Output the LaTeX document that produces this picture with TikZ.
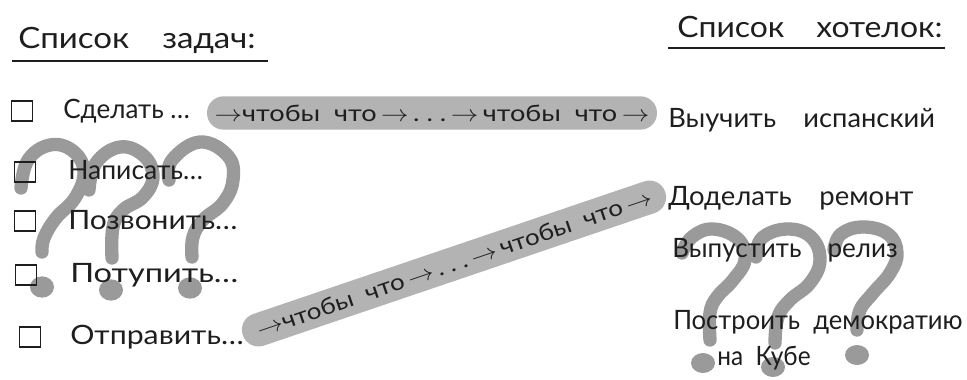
\documentclass[tikz,border=0pt]{standalone}
\usepackage{graphicx}
\usepackage{fontspec}
\setmainfont{Lato}
\definecolor{bandc}{HTML}{B3B3B3}
\definecolor{qmc}{HTML}{9A9A9A}
\definecolor{ink}{HTML}{1E1E1E}
\newcommand\fitwidth[2]{\resizebox{#1}{\height}{#2}}
\begin{document}
\begin{tikzpicture}[x=0.75pt,y=-0.75pt,
 qmark/.style={draw=qmc,line width=10pt,line cap=round,line join=round},
 qdot/.style={fill=qmc},
 txt/.style={text=ink,font=\fontsize{20}{24}\selectfont,inner sep=0pt,anchor=west},
 head/.style={text=ink,font=\fontsize{22}{26}\selectfont,inner sep=0pt,anchor=west},
 bandbox/.style={fill=bandc,text=ink,font=\fontsize{17}{20}\selectfont,rounded corners=12.4pt,minimum height=25pt,inner sep=0pt},
 cbox/.style={draw=ink,line width=0.9pt,minimum width=16pt,minimum height=15pt,inner sep=0pt},
 uline/.style={draw=ink,line width=1.1pt}]
\useasboundingbox (0,0) rectangle (967,379);
% question marks (left group)
\draw[qmark] plot[smooth,tension=0.7] coordinates {(21,188) (28,160) (50,145) (73,151) (84,172) (75,198) (56,218) (44,238) (42,252)};
\fill[qdot] (42,287) ellipse (9pt and 8pt);
\draw[qmark] plot[smooth,tension=0.7] coordinates {(89,190) (96,163) (120,147) (144,156) (153,177) (143,197) (123,210) (113,227) (112,258)};
\fill[qdot] (111,290) ellipse (9pt and 8pt);
\draw[qmark] plot[smooth,tension=0.7] coordinates {(169,180) (172,160) (200,142) (228,156) (233,180) (223,203) (203,220) (193,237) (192,257)};
\fill[qdot] (190,288) ellipse (9pt and 8pt);
% question marks (right group)
\draw[qmark] plot[smooth,tension=0.7] coordinates {(682,253) (692,237) (713,229) (738,239) (745,260) (733,280) (717,297) (710,313) (710,340)};
\fill[qdot] (703,363) ellipse (9pt and 7.5pt);
\draw[qmark] plot[smooth,tension=0.7] coordinates {(756,257) (762,238) (787,229) (811,237) (820,260) (810,283) (790,300) (778,317) (775,343)};
\fill[qdot] (773,367) ellipse (9pt and 7.5pt);
\draw[qmark] plot[smooth,tension=0.7] coordinates {(834,250) (841,234) (863,227) (888,234) (897,253) (890,273) (873,293) (860,310) (857,330)};
\fill[qdot] (857,355) ellipse (9pt and 7.5pt);
% headers
\node[head] (h1) at (18,40) {\fitwidth{178pt}{Список\quad задач:}};
\node[head] (h2) at (677,27) {\fitwidth{199pt}{Список\quad хотелок:}};
\coordinate (u1a) at (12,61); \coordinate (u1b) at (268,61);
\coordinate (u2a) at (668,48); \coordinate (u2b) at (945,48);
\draw[uline] (u1a) -- (u1b);
\draw[uline] (u2a) -- (u2b);
% checkboxes
\node[cbox] (c1) at (22,111) {};
\node[cbox] (c2) at (25,172) {};
\node[cbox] (c3) at (25,221) {};
\node[cbox] (c4) at (26,275) {};
\node[cbox] (c5) at (30,337) {};
% tasks
\node[txt] (t1) at (63,111) {\fitwidth{95pt}{Сделать \dots}};
\node[txt] (t2) at (68,170) {\fitwidth{101pt}{Написать\dots}};
\node[txt] (t3) at (68,220) {\fitwidth{127pt}{Позвонить\dots}};
\node[txt] (t4) at (70,275) {\fitwidth{126pt}{Потупить\dots}};
\node[txt] (t5) at (70,337) {\fitwidth{130pt}{Отправить\dots}};
% wishes
\node[txt] (w1) at (668,120) {\fitwidth{200pt}{Выучить\quad испанский}};
\node[txt] (w2) at (668,198) {\fitwidth{184pt}{Доделать\quad ремонт}};
\node[txt] (w3) at (672,250) {\fitwidth{169pt}{Выпустить\quad релиз}};
\node[txt] (w4) at (673,322) {\fitwidth{217pt}{Построить\ \ демократию}};
\node[txt] (w5) at (717,358) {\fitwidth{70pt}{на\ \ Кубе}};
% bands
\node[bandbox,minimum width=337.5pt] (b1) at (432,113) {\fitwidth{326pt}{$\rightarrow$чтобы\ \ что\,$\rightarrow$\,.\ .\ .\,$\rightarrow$\,чтобы\ \ что\,$\rightarrow$}};
\node[bandbox,minimum width=334.5pt,rotate=18.74] (b2) at (454,263.5) {\fitwidth{312pt}{$\rightarrow$чтобы\ \ что\,$\rightarrow$\,.\ .\ .\,$\rightarrow$\,чтобы\ \ что\,$\rightarrow$}};
\end{tikzpicture}
\end{document}
